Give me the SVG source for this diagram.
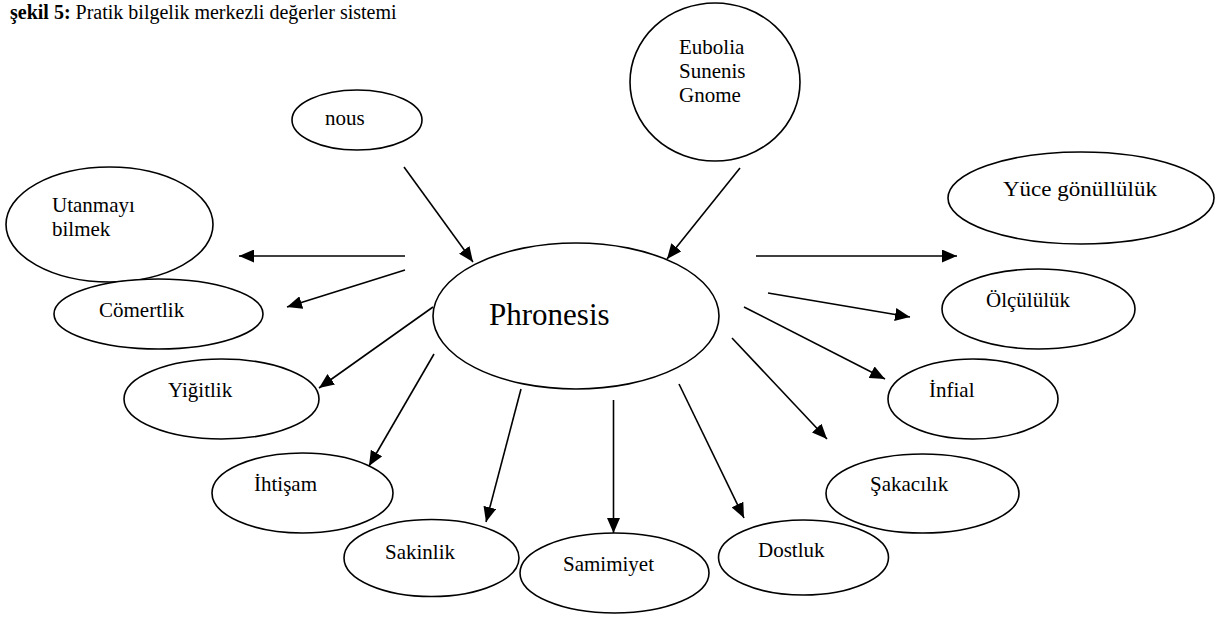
<svg xmlns="http://www.w3.org/2000/svg" width="1222" height="617" viewBox="0 0 1222 617">
<style>
  text { font-family: "Liberation Serif", "Times New Roman", serif; font-size: 21px; fill: #000; }
  .node ellipse { fill: #fff; stroke: #000; stroke-width: 1.6; }
  .edge { stroke: #000; stroke-width: 1.6; fill: none; marker-end: url(#arrow); }
  .title { font-size: 20px; }
</style>
<defs>
  <marker id="arrow" markerUnits="userSpaceOnUse" markerWidth="16" markerHeight="13" refX="15" refY="6.5" orient="auto">
    <path d="M0,0 L15,6.5 L0,13 z" fill="#000"/>
  </marker>
</defs>
<rect width="1222" height="617" fill="#fff"/>
<text class="title" x="10" y="19"><tspan font-weight="bold">şekil 5:</tspan> Pratik bilgelik merkezli değerler sistemi</text>

<g id="connectors">
  <line class="edge" x1="404" y1="167" x2="473" y2="262"/>
  <line class="edge" x1="740" y1="168" x2="667" y2="259"/>
  <line class="edge" x1="405" y1="256" x2="239" y2="256"/>
  <line class="edge" x1="405" y1="270" x2="287" y2="307"/>
  <line class="edge" x1="433" y1="307" x2="319" y2="388"/>
  <line class="edge" x1="434" y1="354" x2="369" y2="466"/>
  <line class="edge" x1="521" y1="389" x2="486" y2="522"/>
  <line class="edge" x1="613.5" y1="400" x2="613.5" y2="533"/>
  <line class="edge" x1="679" y1="384" x2="744" y2="518"/>
  <line class="edge" x1="732" y1="338" x2="827" y2="439"/>
  <line class="edge" x1="744" y1="307" x2="885" y2="379"/>
  <line class="edge" x1="768" y1="293" x2="910" y2="317"/>
  <line class="edge" x1="756" y1="256" x2="957" y2="256"/>
</g>

<g id="phronesis" class="node">
  <ellipse cx="576" cy="316" rx="143" ry="73"/>
  <text x="489" y="325" style="font-size:31px">Phronesis</text>
</g>
<g id="nous" class="node">
  <ellipse cx="357" cy="120" rx="65" ry="30"/>
  <text x="325" y="125">nous</text>
</g>
<g id="eubolia" class="node">
  <ellipse cx="715" cy="82" rx="85" ry="79"/>
  <text x="679" y="54">Eubolia</text>
  <text x="679" y="78">Sunenis</text>
  <text x="679" y="102">Gnome</text>
</g>
<g id="utanmayi" class="node">
  <ellipse cx="109.5" cy="224.5" rx="103.5" ry="57.5"/>
  <text x="52" y="212">Utanmayı</text>
  <text x="52" y="236">bilmek</text>
</g>
<g id="comertlik" class="node">
  <ellipse cx="158.5" cy="314" rx="104.5" ry="35"/>
  <text x="99" y="317">Cömertlik</text>
</g>
<g id="yigitlik" class="node">
  <ellipse cx="221.5" cy="399" rx="97.5" ry="40"/>
  <text x="168" y="397">Yiğitlik</text>
</g>
<g id="ihtisam" class="node">
  <ellipse cx="302.5" cy="493" rx="90.5" ry="40"/>
  <text x="254" y="491">İhtişam</text>
</g>
<g id="sakinlik" class="node">
  <ellipse cx="431.5" cy="558" rx="87.5" ry="38.5"/>
  <text x="385" y="559">Sakinlik</text>
</g>
<g id="samimiyet" class="node">
  <ellipse cx="614.5" cy="573" rx="94.5" ry="40"/>
  <text x="563" y="571">Samimiyet</text>
</g>
<g id="dostluk" class="node">
  <ellipse cx="803.5" cy="557.5" rx="85" ry="37.5"/>
  <text x="758" y="557">Dostluk</text>
</g>
<g id="sakacilik" class="node">
  <ellipse cx="922.5" cy="493.5" rx="96.5" ry="39.5"/>
  <text x="870" y="491">Şakacılık</text>
</g>
<g id="infial" class="node">
  <ellipse cx="973" cy="399" rx="85" ry="40"/>
  <text x="929" y="397">İnfial</text>
</g>
<g id="olculuk" class="node">
  <ellipse cx="1038.5" cy="309" rx="96.5" ry="40"/>
  <text x="986" y="307">Ölçülülük</text>
</g>
<g id="yuce" class="node">
  <ellipse cx="1081" cy="198" rx="133" ry="46"/>
  <text x="1003" y="196" textLength="154" lengthAdjust="spacingAndGlyphs">Yüce gönüllülük</text>
</g>
</svg>
